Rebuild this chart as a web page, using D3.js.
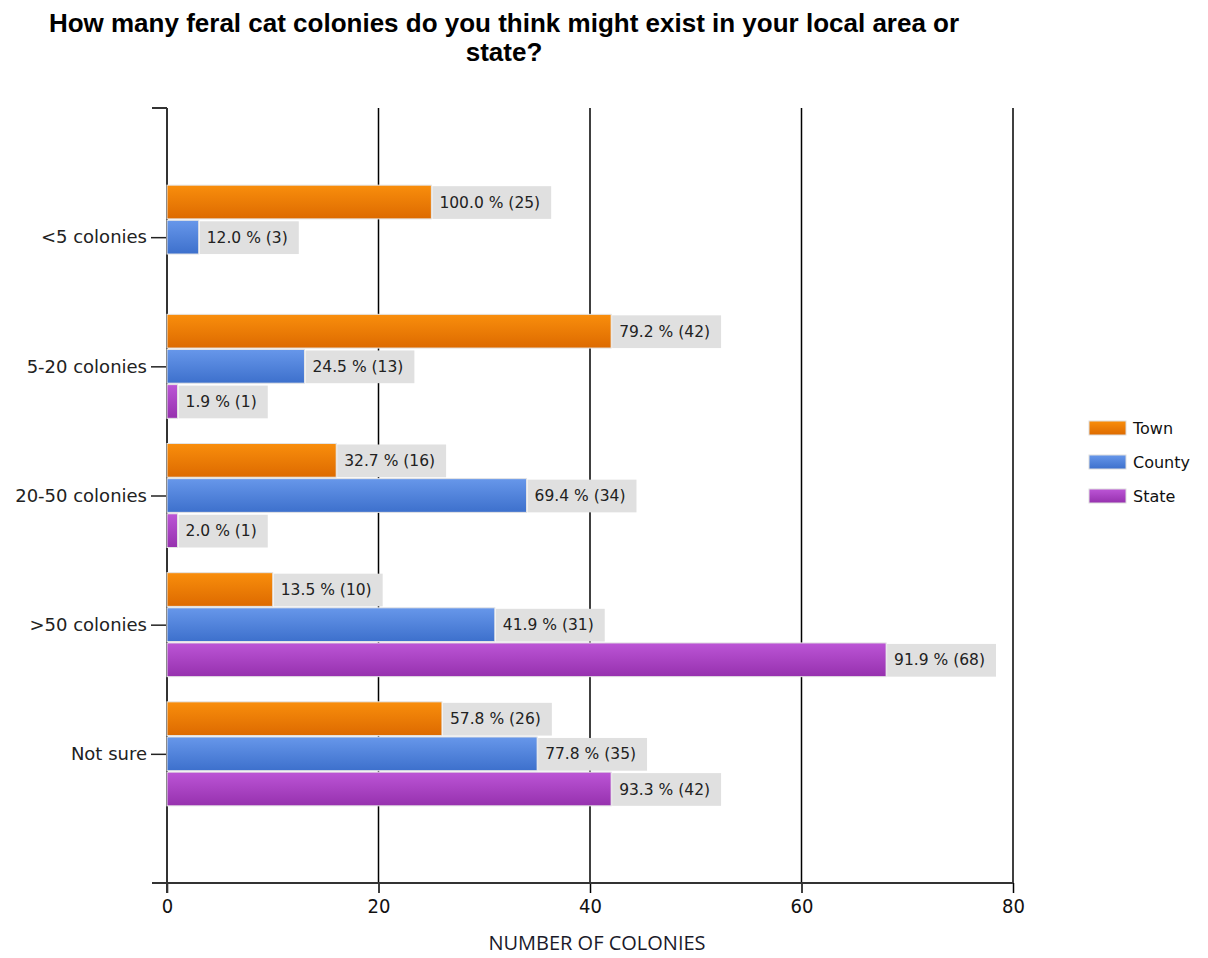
<!DOCTYPE html>
<html>
<head>
<meta charset="utf-8">
<script src="https://cdn.jsdelivr.net/npm/d3@7"></script>
<style>
  body { margin: 0; background: #fff; }
  svg { display: block; }
</style>
</head>
<body>
<svg id="chart" width="1208" height="958"></svg>
<script>
// data
var categories = ["<5 colonies", "5-20 colonies", "20-50 colonies", ">50 colonies", "Not sure"];
var seriesNames = ["Town", "County", "State"];
var townCounts = [25, 42, 16, 10, 26];
var countyCounts = [3, 13, 34, 31, 35];
var stateCounts = [null, 1, 1, 68, 42];
var townPct = [100.0, 79.2, 32.7, 13.5, 57.8];
var countyPct = [12.0, 24.5, 69.4, 41.9, 77.8];
var statePct = [null, 1.9, 2.0, 91.9, 93.3];
var xTicks = [0, 20, 40, 60, 80];

var colors = {
  Town: ["#f98e0c", "#dd6a00"],
  County: ["#6797ea", "#3d70cc"],
  State: ["#bc55d6", "#9631ae"]
};

var counts = { Town: townCounts, County: countyCounts, State: stateCounts };
var pcts = { Town: townPct, County: countyPct, State: statePct };

var rows = [];
seriesNames.forEach(function(s) {
  categories.forEach(function(c, i) {
    if (counts[s][i] != null) rows.push({ cat: c, series: s, value: counts[s][i], pct: pcts[s][i] });
  });
});

var svg = d3.select("#chart");
var plotTop = 108, plotBottom = 883, plotLeft = 167, plotRight = 1013;

var x = d3.scaleLinear().domain([0, 80]).range([plotLeft, plotRight]);
var y = d3.scalePoint().domain(categories).range([plotTop, plotBottom]).padding(1);
var inner = d3.scaleBand().domain(seriesNames).range([-52, 52]).paddingInner(0.04);

// gradients
var defs = svg.append("defs");
seriesNames.forEach(function(s) {
  var g = defs.append("linearGradient").attr("id", "grad" + s)
    .attr("x1", 0).attr("y1", 0).attr("x2", 0).attr("y2", 1);
  g.append("stop").attr("offset", "0%").attr("stop-color", colors[s][0]);
  g.append("stop").attr("offset", "100%").attr("stop-color", colors[s][1]);
});

// title
var title = svg.append("text")
  .attr("text-anchor", "middle")
  .style("font-family", "'Liberation Sans', Arial, sans-serif")
  .style("font-weight", "bold")
  .style("font-size", "26px")
  .attr("fill", "#000");
title.append("tspan").attr("x", 504).attr("y", 32).text("How many feral cat colonies do you think might exist in your local area or");
title.append("tspan").attr("x", 504).attr("y", 61).text("state?");

// vertical grid lines
svg.append("g").selectAll("line")
  .data(xTicks.slice(1))
  .enter().append("line")
  .attr("x1", function(d) { return x(d); })
  .attr("x2", function(d) { return x(d); })
  .attr("y1", plotTop).attr("y2", plotBottom)
  .attr("stroke", "#000").attr("stroke-width", 1.5);

// x axis
var xAxis = svg.append("g")
  .attr("transform", "translate(0," + plotBottom + ")")
  .call(d3.axisBottom(x).tickValues(xTicks).tickSize(10).tickPadding(6));
xAxis.select(".domain").remove();
xAxis.selectAll(".tick line").attr("stroke", "#000").attr("stroke-width", 1.5);
xAxis.selectAll(".tick text")
  .style("font-family", "'Liberation Sans Narrow', 'DejaVu Sans Condensed', sans-serif")
  .style("font-size", "20px").attr("fill", "#111");
svg.append("line").attr("x1", 152).attr("x2", plotRight).attr("y1", plotBottom).attr("y2", plotBottom)
  .attr("stroke", "#333").attr("stroke-width", 2);

// y axis
var yAxis = svg.append("g")
  .attr("transform", "translate(" + plotLeft + ",0)")
  .call(d3.axisLeft(y).tickSize(16).tickPadding(4));
yAxis.select(".domain").remove();
yAxis.selectAll(".tick line").attr("stroke", "#222").attr("stroke-width", 1.5);
yAxis.selectAll(".tick text")
  .style("font-family", "'DejaVu Sans', sans-serif")
  .style("font-size", "18px").attr("fill", "#222");
svg.append("line").attr("x1", plotLeft).attr("x2", plotLeft).attr("y1", plotTop).attr("y2", plotBottom + 10)
  .attr("stroke", "#333").attr("stroke-width", 2);
svg.append("line").attr("x1", 152).attr("x2", plotLeft).attr("y1", plotTop).attr("y2", plotTop)
  .attr("stroke", "#333").attr("stroke-width", 2);

// bars
var bars = svg.append("g").selectAll("g.bar")
  .data(rows)
  .enter().append("g").attr("class", "bar");

bars.append("rect")
  .attr("class", "barRect")
  .attr("x", x(0))
  .attr("y", function(d) { return y(d.cat) + inner(d.series); })
  .attr("width", function(d) { return x(d.value) - x(0); })
  .attr("height", inner.bandwidth())
  .attr("fill", function(d) { return "url(#grad" + d.series + ")"; })
  .attr("stroke", "#e4e4e4").attr("stroke-width", 1);

// value labels with grey boxes
bars.append("rect")
  .attr("class", "labelBox")
  .attr("fill", "#e0e0e0");
var labelText = bars.append("text")
  .attr("x", function(d) { return x(d.value) + 8; })
  .attr("y", function(d) { return y(d.cat) + inner(d.series) + inner.bandwidth() / 2; })
  .attr("dy", "0.36em")
  .style("font-family", "'DejaVu Sans', sans-serif")
  .style("font-size", "15.5px")
  .attr("fill", "#222")
  .text(function(d) { return d.pct.toFixed(1) + " % (" + d.value + ")"; });
labelText.each(function(d) {
  var w = this.getComputedTextLength();
  d3.select(this.parentNode).select(".labelBox")
    .attr("x", x(d.value) + 1)
    .attr("y", y(d.cat) + inner(d.series) + 1)
    .attr("width", w + 18)
    .attr("height", inner.bandwidth() - 1);
});

// x axis title
svg.append("text")
  .attr("x", 597).attr("y", 950)
  .attr("text-anchor", "middle")
  .style("font-family", "'Open Sans', sans-serif")
  .style("font-size", "20px")
  .attr("fill", "#1a1a2a")
  .text("NUMBER OF COLONIES");

// legend
var legend = svg.append("g").selectAll("g")
  .data(seriesNames)
  .enter().append("g")
  .attr("transform", function(d, i) { return "translate(1089," + (421 + i * 34) + ")"; });
legend.append("rect")
  .attr("width", 37).attr("height", 14)
  .attr("fill", function(d) { return "url(#grad" + d + ")"; })
  .attr("stroke", "#ddd");
legend.append("text")
  .attr("x", 44).attr("y", 7).attr("dy", "0.36em")
  .style("font-family", "'DejaVu Sans', sans-serif")
  .style("font-size", "16px")
  .attr("fill", "#111")
  .text(function(d) { return d; });
</script>
</body>
</html>
